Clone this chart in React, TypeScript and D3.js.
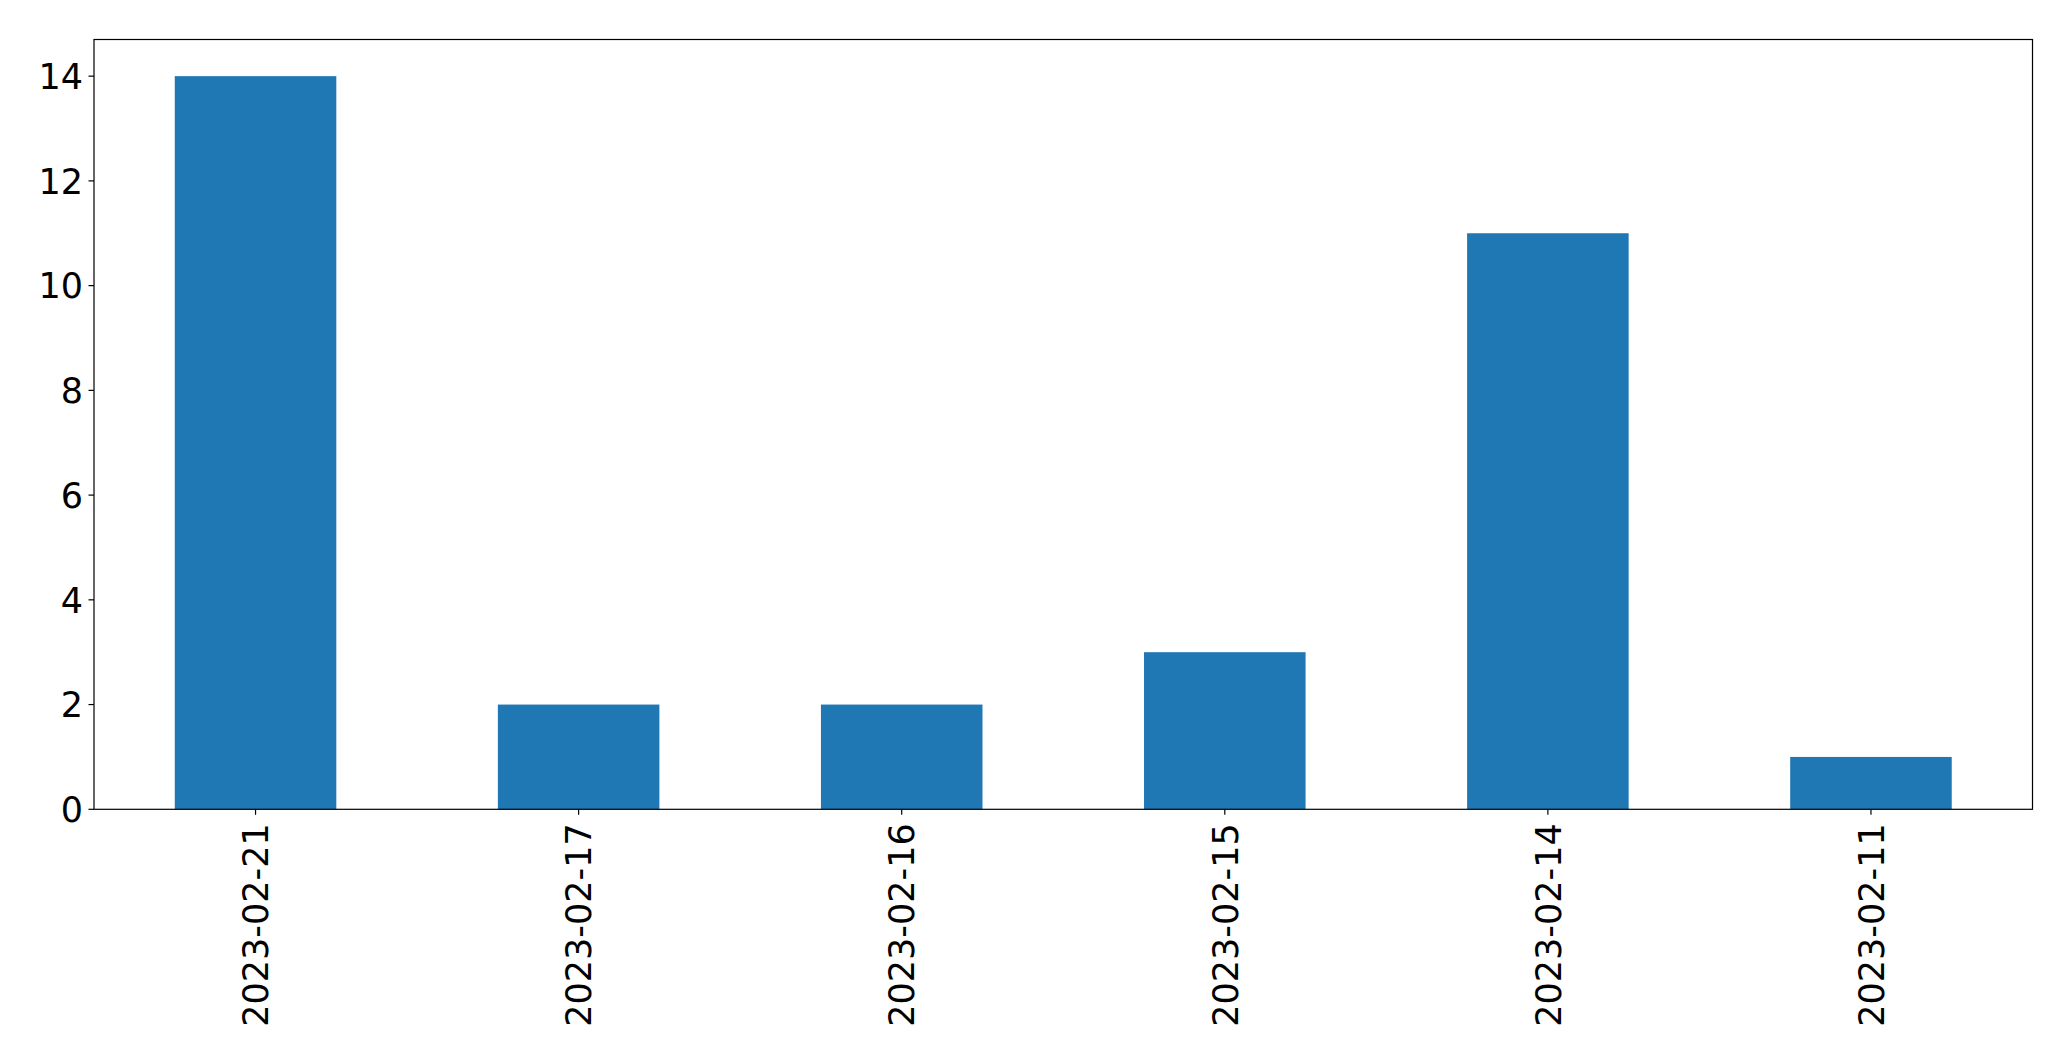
import React from "react";
import * as d3 from "d3";

const categories: string[] = ["2023-02-21", "2023-02-17", "2023-02-16", "2023-02-15", "2023-02-14", "2023-02-11"];
const values: number[] = [14, 2, 2, 3, 11, 1];
const yTicks: number[] = [0, 2, 4, 6, 8, 10, 12, 14];

const W = 2071;
const H = 1061;
const left = 94;
const right = 2032.5;
const top = 39.5;
const bottom = 809.3;
const FONT = "DejaVu Sans, sans-serif";
const FS = 35;

export default function App() {
  const x = d3.scaleBand<string>().domain(categories).range([left, right]).paddingInner(0.5).paddingOuter(0.25);
  const y = d3.scaleLinear().domain([0, 14.7]).range([bottom, top]);
  const bw = x.bandwidth();
  return (
    <svg width={W} height={H} style={{ position: "absolute", left: 0, top: 0, background: "#fff" }}>
      <rect x={0} y={0} width={W} height={H} fill="#fff" />
      {categories.map((c, i) => (
        <rect key={c} x={x(c)} y={y(values[i])} width={bw} height={y(0) - y(values[i])} fill="#1f77b4" />
      ))}
      <rect x={left} y={top} width={right - left} height={bottom - top} fill="none" stroke="#000" strokeWidth={1.2} />
      {yTicks.map((t) => (
        <g key={t}>
          <line x1={left - 5.5} x2={left} y1={y(t)} y2={y(t)} stroke="#000" strokeWidth={1.2} />
          <text x={left - 11} y={y(t)} dy="0.3645em" textAnchor="end" fontFamily={FONT} fontSize={FS} fill="#000">
            {t}
          </text>
        </g>
      ))}
      {categories.map((c) => {
        const cx = (x(c) as number) + bw / 2;
        return (
          <g key={c}>
            <line x1={cx} x2={cx} y1={bottom} y2={bottom + 5.5} stroke="#000" strokeWidth={1.2} />
            <text
              transform={`translate(${cx},${bottom + 14}) rotate(-90)`}
              dy="0.3645em"
              textAnchor="end"
              fontFamily={FONT}
              fontSize={FS}
              fill="#000"
            >
              {c}
            </text>
          </g>
        );
      })}
    </svg>
  );
}
